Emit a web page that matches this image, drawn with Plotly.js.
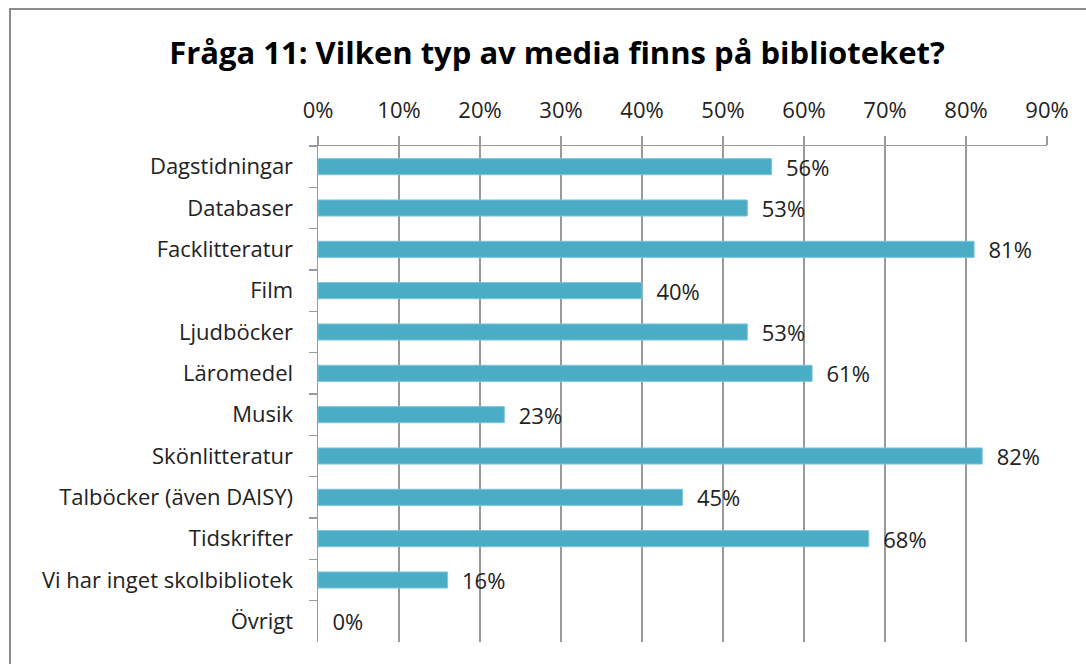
<!DOCTYPE html>
<html><head><meta charset="utf-8">
<script src="https://cdn.plot.ly/plotly-3.0.1.min.js"></script>
<style>
html,body{margin:0;padding:0;background:#fff;}
#wrap{position:relative;width:1086px;height:664px;overflow:hidden;}
#chart{width:1086px;height:664px;}
#frame{position:absolute;left:9px;top:8px;width:1200px;height:800px;border:2px solid #8c8c8c;pointer-events:none;box-sizing:border-box;}
</style></head>
<body>
<div id="wrap"><div id="chart"></div><div id="frame"></div></div>
<script>
const categories = ["Dagstidningar","Databaser","Facklitteratur","Film","Ljudböcker","Läromedel","Musik","Skönlitteratur","Talböcker (även DAISY)","Tidskrifter","Vi har inget skolbibliotek","Övrigt"];
const values = [56,53,81,40,53,61,23,82,45,68,16,0];
const tickVals = [0,10,20,30,40,50,60,70,80,90];
const tickText = ["0%","10%","20%","30%","40%","50%","60%","70%","80%","90%"];
const titleText = "Fråga 11: Vilken typ av media finns på biblioteket?";

const FONT = "'Open Sans', Lato, sans-serif";
const trace = {
  type: "bar",
  orientation: "h",
  y: categories,
  x: values,
  marker: {color: "#4BACC6", line: {color: "#7cc7d9", width: values.map(v => v > 0 ? 1 : 0)}},
  width: 0.39,
  text: values.map(v => "\u00a0\u00a0" + v + "%"),
  textposition: "outside",
  constraintext: "none",
  cliponaxis: false,
  textfont: {family: FONT, size: 22, color: "#222"},
  hoverinfo: "none"
};
const layout = {
  width: 1086, height: 664,
  margin: {l: 318, r: 39, t: 146, b: 22},
  paper_bgcolor: "#fff", plot_bgcolor: "#fff",
  showlegend: false,
  title: {text: "<b>" + titleText + "</b>", x: 557/1086, xanchor: "center", y: 1 - 53/664, yanchor: "middle",
          font: {family: FONT, size: 31, color: "#000"}},
  xaxis: {
    side: "top", range: [0, 90], tickvals: tickVals, ticktext: tickText,
    showgrid: true, gridcolor: "#9a9a9a", gridwidth: 1.5,
    showline: true, linecolor: "#9a9a9a", linewidth: 1.5,
    ticks: "outside", ticklen: 9, tickcolor: "#9a9a9a", tickwidth: 1.5,
    ticklabelstandoff: 9,
    zeroline: false, fixedrange: true,
    tickfont: {family: FONT, size: 22, color: "#222"}
  },
  yaxis: {
    type: "category", autorange: "reversed",
    showgrid: false, showline: true, linecolor: "#9a9a9a", linewidth: 1.5,
    ticks: "outside", tickson: "boundaries", ticklen: 8, tickcolor: "#9a9a9a", tickwidth: 1.5,
    ticklabelstandoff: 19,
    fixedrange: true,
    tickfont: {family: FONT, size: 22, color: "#222"}
  }
};
Plotly.newPlot("chart", [trace], layout, {displayModeBar: false, staticPlot: true});
</script>
</body></html>
